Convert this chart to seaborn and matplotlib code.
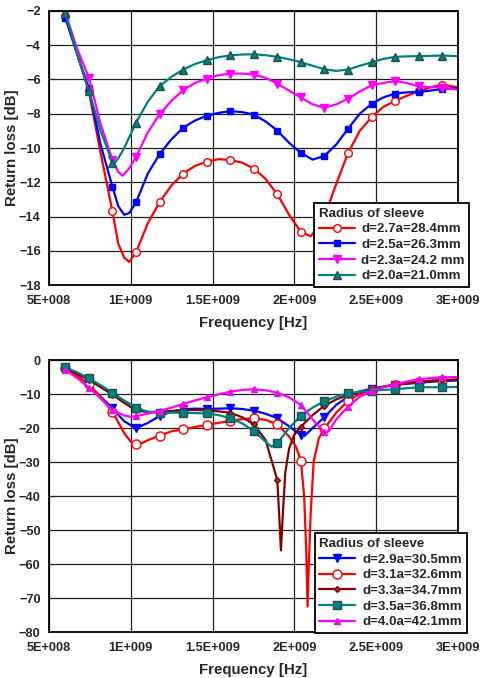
import numpy as np
import matplotlib
matplotlib.use("Agg")
import matplotlib.pyplot as plt
import seaborn as sns
from matplotlib.ticker import MultipleLocator, FixedLocator

sns.set_style("white")
plt.rcParams['font.family'] = ['Liberation Sans', 'DejaVu Sans']
plt.rcParams['font.weight'] = 'bold'

# frequencies in units of 1E+008 Hz
marker_freqs = [6.0, 7.44, 8.88, 10.32, 11.76, 13.2, 14.64, 16.08, 17.52,
                18.96, 20.4, 21.84, 23.28, 24.72, 26.16, 27.6, 29.04]
xtick_labels = ["5E+008", "1E+009", "1.5E+009", "2E+009", "2.5E+009", "3E+009"]

# ---- top chart: d = 2.0a .. 2.7a
f_27 = [6.0, 6.72, 7.44, 8.16, 8.88, 9.24, 9.6, 9.9, 10.32, 11.04, 11.76, 12.48, 13.2, 13.92, 14.64, 15.36,
        16.08, 16.8, 17.52, 18.24, 18.96, 19.68, 20.4, 21.0, 21.4, 21.84, 22.56, 23.28, 24.0, 24.72, 25.44,
        26.16, 26.88, 27.6, 28.32, 29.04, 30.0]
v_27 = [-2.3, -4.5, -6.7, -10.3, -13.7, -15.6, -16.4, -16.65, -16.1, -14.4, -13.16, -12.2, -11.5, -11.05, -10.8,
        -10.65, -10.7, -10.85, -11.2, -11.8, -12.7, -13.9, -14.9, -15.15, -14.7, -14.0, -12.1, -10.3, -9.0, -8.2,
        -7.6, -7.25, -6.95, -6.7, -6.45, -6.3, -6.45]

f_25 = [6.0, 6.72, 7.44, 8.16, 8.88, 9.24, 9.6, 9.9, 10.32, 11.04, 11.76, 12.48, 13.2, 13.92, 14.64, 15.36,
        16.08, 16.8, 17.52, 18.24, 18.96, 19.68, 20.4, 21.12, 21.84, 22.56, 23.28, 24.0, 24.72, 25.44, 26.16,
        26.88, 27.6, 28.32, 29.04, 30.0]
v_25 = [-2.4, -4.5, -6.5, -9.8, -12.26, -13.4, -13.9, -13.8, -13.18, -11.5, -10.36, -9.5, -8.82, -8.4, -8.12,
        -7.95, -7.85, -7.9, -8.05, -8.45, -8.98, -9.7, -10.28, -10.68, -10.46, -9.8, -8.88, -8.0, -7.42, -7.05,
        -6.82, -6.75, -6.72, -6.65, -6.55, -6.5]

f_23 = [6.0, 6.72, 7.44, 8.16, 8.88, 9.24, 9.5, 9.9, 10.32, 11.04, 11.76, 12.48, 13.2, 13.92, 14.64, 15.36,
        16.08, 16.8, 17.52, 18.24, 18.96, 19.68, 20.4, 21.12, 21.84, 22.56, 23.28, 24.0, 24.72, 25.44, 26.16,
        26.88, 27.6, 28.32, 29.04, 30.0]
v_23 = [-2.1, -4.2, -5.89, -8.6, -10.7, -11.4, -11.62, -11.2, -10.52, -9.1, -8.03, -7.25, -6.63, -6.2, -5.95,
        -5.75, -5.66, -5.65, -5.71, -5.9, -6.24, -6.65, -7.05, -7.45, -7.65, -7.45, -7.13, -6.7, -6.35, -6.2,
        -6.1, -6.2, -6.4, -6.45, -6.47, -6.6]

f_20 = [6.0, 6.72, 7.44, 8.16, 8.88, 9.0, 9.24, 9.6, 10.32, 11.04, 11.76, 12.48, 13.2, 13.92, 14.64, 15.36,
        16.08, 16.8, 17.52, 18.24, 18.96, 19.68, 20.4, 21.12, 21.84, 22.56, 23.28, 24.0, 24.72, 25.44, 26.16,
        26.88, 27.6, 28.32, 29.04, 30.0]
v_20 = [-2.1, -4.5, -6.67, -9.0, -10.85, -10.9, -10.6, -10.0, -8.53, -7.3, -6.39, -5.85, -5.42, -5.1, -4.88,
        -4.7, -4.59, -4.54, -4.53, -4.58, -4.68, -4.82, -4.99, -5.2, -5.4, -5.5, -5.42, -5.2, -5.0, -4.8,
        -4.68, -4.65, -4.64, -4.62, -4.6, -4.64]

# ---- bottom chart: d = 2.9a .. 4.0a
f_29 = [6.0, 6.72, 7.44, 8.16, 8.88, 9.6, 10.32, 11.04, 11.76, 12.48, 13.2, 13.92, 14.64, 15.36, 16.08, 16.8,
        17.52, 18.24, 18.96, 19.68, 20.4, 20.6, 21.12, 21.84, 22.56, 23.28, 24.0, 24.72, 25.44, 26.16, 26.88,
        27.6, 28.32, 29.04, 30.0]
v_29 = [-2.4, -4.5, -7.3, -10.8, -14.2, -18.0, -20.1, -18.5, -16.5, -15.2, -14.5, -14.3, -14.4, -14.3, -14.2,
        -14.4, -14.9, -15.8, -17.1, -19.5, -22.0, -22.4, -20.0, -16.8, -13.2, -10.8, -9.2, -8.5, -7.8, -7.3,
        -7.0, -6.7, -6.4, -6.2, -6.0]

f_31 = [6.0, 6.72, 7.44, 8.16, 8.88, 9.6, 10.0, 10.32, 10.6, 11.04, 11.76, 12.48, 13.2, 13.92, 14.64, 15.36,
        16.08, 16.8, 17.52, 18.24, 18.96, 19.68, 20.1, 20.4, 20.6, 20.72, 20.81, 20.9, 21.0, 21.18, 21.5,
        21.84, 22.56, 23.28, 24.0, 24.72, 25.44, 26.16, 26.88, 27.6, 28.32, 29.04, 30.0]
v_31 = [-2.4, -4.6, -7.1, -11.0, -15.2, -21.5, -24.0, -24.8, -24.6, -23.6, -22.2, -21.0, -20.4, -19.7, -19.1,
        -18.5, -17.9, -17.4, -17.1, -17.6, -18.9, -22.5, -25.5, -29.6, -40.0, -55.0, -72.5, -58.0, -45.0,
        -30.0, -23.0, -20.1, -15.5, -12.0, -10.0, -8.8, -8.0, -7.3, -6.8, -6.4, -6.1, -5.9, -5.7]

f_33 = [6.0, 6.72, 7.44, 8.16, 8.88, 9.6, 10.32, 11.04, 11.76, 12.48, 13.2, 13.92, 14.64, 15.36, 16.08, 16.8,
        17.52, 18.24, 18.96, 19.1, 19.18, 19.3, 19.45, 19.68, 20.0, 20.4, 21.12, 21.84, 22.56, 23.28, 24.0,
        24.72, 25.44, 26.16, 26.88, 27.6, 28.32, 29.04, 30.0]
v_33 = [-2.5, -4.0, -5.8, -8.0, -10.2, -12.6, -14.8, -15.3, -15.2, -15.0, -14.7, -14.7, -14.8, -15.1, -15.5,
        -16.8, -18.9, -23.5, -35.3, -48.0, -56.0, -45.0, -33.0, -26.0, -22.0, -19.6, -16.2, -13.4, -11.6,
        -10.3, -9.4, -8.8, -7.9, -7.1, -6.7, -6.4, -6.1, -5.9, -5.8]

f_35 = [6.0, 6.72, 7.44, 8.16, 8.88, 9.6, 10.32, 11.04, 11.76, 12.48, 13.2, 13.92, 14.64, 15.36, 16.08, 16.8,
        17.52, 18.24, 18.6, 18.96, 19.68, 20.4, 21.12, 21.84, 22.56, 23.28, 24.0, 24.72, 25.44, 26.16, 26.88,
        27.6, 28.32, 29.04, 30.0]
v_35 = [-2.2, -3.6, -5.4, -7.4, -9.6, -11.9, -14.0, -15.2, -15.5, -15.5, -15.5, -15.6, -15.7, -16.2, -17.1,
        -18.6, -20.9, -24.0, -25.5, -24.5, -20.0, -16.4, -14.0, -12.1, -10.8, -9.8, -9.3, -9.0, -8.8, -8.6,
        -8.3, -8.0, -8.0, -8.0, -7.9]

f_40 = [6.0, 6.72, 7.44, 8.16, 8.88, 9.6, 10.0, 10.32, 11.04, 11.76, 12.48, 13.2, 13.92, 14.64, 15.36, 16.08,
        16.8, 17.52, 18.24, 18.96, 19.68, 20.4, 21.12, 21.84, 22.1, 22.56, 23.28, 24.0, 24.72, 25.44, 26.16,
        26.88, 27.6, 28.32, 29.04, 30.0]
v_40 = [-2.9, -5.3, -8.1, -11.3, -14.7, -16.3, -16.7, -16.5, -15.8, -15.0, -14.0, -12.9, -11.9, -11.0, -10.1,
        -9.3, -8.8, -8.6, -8.9, -9.6, -11.0, -13.2, -17.5, -21.2, -21.0, -17.5, -13.7, -10.8, -9.1, -8.0,
        -7.1, -6.3, -5.7, -5.3, -5.1, -5.0]

top_series = [
    ("d=2.7a=28.4mm", f_27, v_27, "#ff0000", "o", "white", "#ff0000", 5.5),
    ("d=2.5a=26.3mm", f_25, v_25, "#0000ff", "s", "#0000ff", "#0000ff", 5),
    ("d=2.3a=24.2 mm", f_23, v_23, "#ff00ff", "v", "#ff00ff", "#ff00ff", 6),
    ("d=2.0a=21.0mm", f_20, v_20, "#008080", "^", "#008080", "#205050", 5.5),
]
bottom_series = [
    ("d=2.9a=30.5mm", f_29, v_29, "#0000ff", "v", "#0000ff", "#0000ff", 6),
    ("d=3.1a=32.6mm", f_31, v_31, "#ff0000", "o", "white", "#ff0000", 6.5),
    ("d=3.3a=34.7mm", f_33, v_33, "#800000", "D", "#a03030", "#800000", 3),
    ("d=3.5a=36.8mm", f_35, v_35, "#008080", "s", "#008080", "#205050", 5.5),
    ("d=4.0a=42.1mm", f_40, v_40, "#ff00ff", "^", "#a040a0", "#ff00ff", 5),
]


def draw(ax, series, ylim, ymajor, yminor, leg_anchor):
    for lab, f, v, c, m, fc, ec, ms in series:
        f = np.array(f)
        idx = [i for i, x in enumerate(f) if np.any(np.isclose(x, marker_freqs))]
        sns.lineplot(x=f * 1e8, y=v, ax=ax, color=c, lw=1.6, marker=m, markersize=ms,
                     markerfacecolor=fc, markeredgecolor=ec, markeredgewidth=1.0,
                     markevery=idx, label=lab, estimator=None, sort=False)
    ax.set_xlim(5e8, 3e9)
    ax.set_ylim(*ylim)
    ax.xaxis.set_major_locator(FixedLocator([5e8, 1e9, 1.5e9, 2e9, 2.5e9, 3e9]))
    ax.set_xticklabels(xtick_labels)
    ax.xaxis.set_minor_locator(MultipleLocator(1e8))
    ax.yaxis.set_major_locator(MultipleLocator(ymajor))
    ax.yaxis.set_minor_locator(MultipleLocator(yminor))
    ax.grid(True, which='major', color='#202020', lw=0.9)
    ax.tick_params(which='both', direction='in', labelsize=9.2)
    ax.tick_params(axis='x', which='major', pad=7)
    ax.tick_params(axis='y', which='major', pad=6)
    ax.tick_params(which='major', length=4, width=1)
    ax.tick_params(which='minor', length=2.5, width=0.8)
    for s in ax.spines.values():
        s.set_color('black')
        s.set_linewidth(1.3)
    ax.set_xlabel("Frequency [Hz]", fontsize=10.8, fontweight='bold', labelpad=7)
    ax.set_ylabel("Return loss [dB]", fontsize=10.8, fontweight='bold')
    ax.yaxis.set_label_coords(-0.073, 0.5)
    leg = ax.legend(loc='lower left', bbox_to_anchor=leg_anchor, title="Radius of sleeve",
                    fontsize=9.6, title_fontproperties={'weight': 'bold', 'size': 9.6},
                    frameon=True, fancybox=False, framealpha=1, edgecolor='black',
                    handlelength=2.7, handletextpad=0.5, labelspacing=0.25,
                    borderpad=0.35, borderaxespad=0, numpoints=1)
    leg._legend_box.align = "left"
    leg.get_frame().set_linewidth(1.3)
    leg.set_zorder(10)


fig = plt.figure(figsize=(4.8, 6.78), dpi=100)
ax1 = fig.add_axes([0.102, 0.5796, 0.852, 0.4042])
ax2 = fig.add_axes([0.102, 0.0678, 0.852, 0.4012])

draw(ax1, top_series, (-18, -2), 2, 0.5, (0.648, -0.007))
draw(ax2, bottom_series, (-80, 0), 10, 2, (0.650, -0.004))

fig.savefig("out.png", dpi=100)
